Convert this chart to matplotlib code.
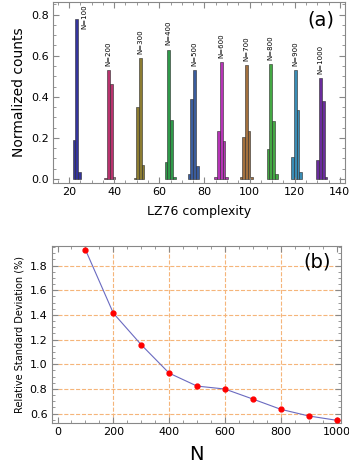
import numpy as np
from matplotlib import pyplot as plt
from matplotlib.ticker import MultipleLocator

# panel (a): histograms of LZ76 complexity for each N
sizes = [100, 200, 300, 400, 500, 600, 700, 800, 900, 1000]
bin_width = 1.2
bin_start = [21.6, 35.7, 48.6, 62.4, 72.6, 84.4, 95.6, 107.6, 118.5, 129.6]
counts = [
    [0.19, 0.78, 0.035],
    [0.005, 0.53, 0.46, 0.01],
    [0.005, 0.35, 0.59, 0.07],
    [0.083, 0.63, 0.288, 0.01],
    [0.024, 0.39, 0.53, 0.063],
    [0.008, 0.235, 0.57, 0.185, 0.008],
    [0.008, 0.203, 0.556, 0.234, 0.008],
    [0.146, 0.56, 0.28, 0.024],
    [0.109, 0.53, 0.337, 0.036],
    [0.093, 0.49, 0.38, 0.01],
]
colors = ['#34349c', '#b8336e', '#8c7c32', '#2f9a4a', '#3a5c9c',
          '#b634b6', '#a2703e', '#44a844', '#3a8cb4', '#6a2c9c']

# panel (b): relative standard deviation vs N
n_vals = [100, 200, 300, 400, 500, 600, 700, 800, 900, 1000]
rsd = [1.929, 1.414, 1.158, 0.928, 0.823, 0.799, 0.718, 0.635, 0.581, 0.546]

fig = plt.figure(figsize=(3.49, 4.68), dpi=100)

def style_axes(ax):
    for s in ax.spines.values():
        s.set_color('#888888')
        s.set_linewidth(0.8)
    ax.tick_params(which='both', direction='in', top=True, right=True,
                   color='#888888', labelsize=8, pad=3)
    ax.tick_params(which='major', length=4)
    ax.tick_params(which='minor', length=2)

ax1 = fig.add_axes([0.152, 0.609, 0.836, 0.387])
for i, n in enumerate(sizes):
    h = counts[i]
    x = bin_start[i] + bin_width * np.arange(len(h))
    ax1.bar(x, h, width=bin_width, align='edge', color=colors[i],
            edgecolor='#2a2a2a', linewidth=0.4)
    k = int(np.argmax(h))
    if n == 100:
        ax1.text(x[k] + 4.0, 0.85, 'N=%d' % n, rotation=90, fontsize=5,
                 ha='center', va='top')
    else:
        ax1.text(x[k] + bin_width / 2, h[k] + 0.02, 'N=%d' % n, rotation=90,
                 fontsize=5, ha='center', va='bottom')

ax1.set_xlim(12.9, 142.2)
ax1.set_ylim(-0.0195, 0.862)
ax1.xaxis.set_major_locator(MultipleLocator(20))
ax1.xaxis.set_minor_locator(MultipleLocator(5))
ax1.yaxis.set_major_locator(MultipleLocator(0.2))
ax1.yaxis.set_minor_locator(MultipleLocator(0.05))
ax1.set_xlabel('LZ76 complexity', fontsize=9, labelpad=6)
ax1.set_ylabel('Normalized counts', fontsize=10)
ax1.text(0.965, 0.95, '(a)', transform=ax1.transAxes, fontsize=14,
         ha='right', va='top')
style_axes(ax1)

ax2 = fig.add_axes([0.148, 0.0962, 0.829, 0.3792])
for gx in [200, 400, 600, 800]:
    ax2.axvline(gx, color='#f5b57a', linestyle='--', linewidth=0.8, zorder=0)
for gy in [0.6, 0.8, 1.0, 1.2, 1.4, 1.6, 1.8]:
    ax2.axhline(gy, color='#f5b57a', linestyle='--', linewidth=0.8, zorder=0)
ax2.plot(n_vals, rsd, color='#6a6ac0', linewidth=0.8, zorder=2)
ax2.plot(n_vals, rsd, linestyle=' ', marker='o', ms=3.5, color='red', zorder=3)

ax2.set_xlim(-21, 1016)
ax2.set_ylim(0.524, 1.962)
ax2.xaxis.set_major_locator(MultipleLocator(200))
ax2.xaxis.set_minor_locator(MultipleLocator(50))
ax2.yaxis.set_major_locator(MultipleLocator(0.2))
ax2.yaxis.set_minor_locator(MultipleLocator(0.05))
ax2.set_xlabel('N', fontsize=14, labelpad=6)
ax2.set_ylabel('Relative Standard Deviation (%)', fontsize=7)
ax2.text(0.965, 0.96, '(b)', transform=ax2.transAxes, fontsize=14,
         ha='right', va='top')
style_axes(ax2)

fig.savefig('out.png', dpi=100)
